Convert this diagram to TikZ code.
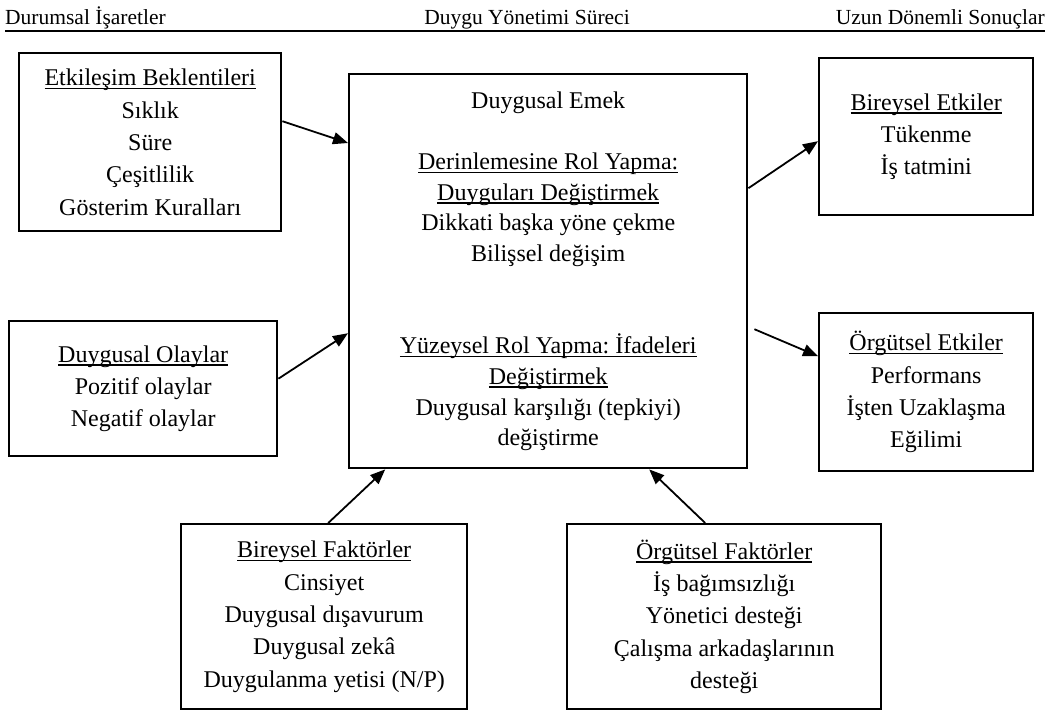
\documentclass[tikz,border=0pt]{standalone}
\usepackage{fontspec}
\setmainfont{Liberation Serif}
\usetikzlibrary{arrows.meta,calc}
\newcommand{\myul}[1]{\setbox0\hbox{#1}\rlap{\rule[-3.6pt]{\wd0}{1.5pt}}\box0}
\frenchspacing
\begin{document}
\begin{tikzpicture}[x=1pt,y=-1pt,
  box/.style={draw, line width=2.4pt, inner sep=0pt, align=center, anchor=north west},
  sidefont/.style={font=\fontsize{24}{32.3}\selectfont},
  midfont/.style={font=\fontsize{24}{30.7}\selectfont},
  headfont/.style={font=\fontsize{21.5}{25}\selectfont, inner sep=0pt},
  arr/.style={line width=1.8pt, -{Triangle[length=15pt,width=12pt]}}]
\useasboundingbox (0,0) rectangle (1051,718);

% header
\node[headfont, anchor=base west] (h1) at (5,24) {Durumsal İşaretler};
\node[headfont, anchor=base] (h2) at (527,24) {Duygu Yönetimi Süreci};
\node[headfont, anchor=base east] (h3) at (1045,24) {Uzun Dönemli Sonuçlar};
\draw[line width=2pt] (5,31) -- (1045,31);

% boxes
\node[box, sidefont, minimum width=262pt, minimum height=178pt] (etk) at (18,52)
  {\myul{Etkileşim Beklentileri}\\Sıklık\\Süre\\Çeşitlilik\\Gösterim Kuralları};
\node[box, sidefont, minimum width=268pt, minimum height=135pt] (ola) at (8,320)
  {\myul{Duygusal Olaylar}\\Pozitif olaylar\\Negatif olaylar};
\node[box, midfont, minimum width=398pt, minimum height=394pt] (emek) at (348,73)
  {Duygusal Emek\\[30.7pt]\myul{Derinlemesine Rol Yapma:}\\\myul{Duyguları Değiştirmek}\\Dikkati başka yöne çekme\\Bilişsel değişim\\[61.4pt]\myul{Yüzeysel Rol Yapma: İfadeleri}\\\myul{Değiştirmek}\\Duygusal karşılığı (tepkiyi)\\değiştirme};
\node[box, sidefont, minimum width=214pt, minimum height=157pt] (bet) at (818,57)
  {\myul{Bireysel Etkiler}\\Tükenme\\İş tatmini};
\node[box, sidefont, minimum width=214pt, minimum height=158pt] (oet) at (818,312)
  {\myul{Örgütsel Etkiler}\\Performans\\İşten Uzaklaşma\\Eğilimi};
\node[box, sidefont, minimum width=286pt, minimum height=185pt] (bfak) at (180,523)
  {\myul{Bireysel Faktörler}\\Cinsiyet\\Duygusal dışavurum\\Duygusal zekâ\\Duygulanma yetisi (N/P)};
\node[box, sidefont, minimum width=314pt, minimum height=185pt] (ofak) at (566,523)
  {\myul{Örgütsel Faktörler}\\İş bağımsızlığı\\Yönetici desteği\\Çalışma arkadaşlarının\\desteği};

% arrows
\draw[arr] ([yshift=21pt]etk.east) -- ([yshift=-70pt]emek.north west);
\draw[arr] ([yshift=10pt]ola.east) -- ([yshift=-62pt]emek.west);
\draw[arr] ([xshift=4pt]bfak.north) -- ([xshift=-163pt]emek.south);
\draw[arr] ([xshift=-19pt]ofak.north) -- ([xshift=101pt]emek.south);
\draw[arr] ([yshift=83pt]emek.east) -- ([yshift=-4.5pt]bet.west);
\draw[arr] ([xshift=6pt,yshift=-58pt]emek.east) -- ([yshift=36pt]oet.west);
\end{tikzpicture}
\end{document}
